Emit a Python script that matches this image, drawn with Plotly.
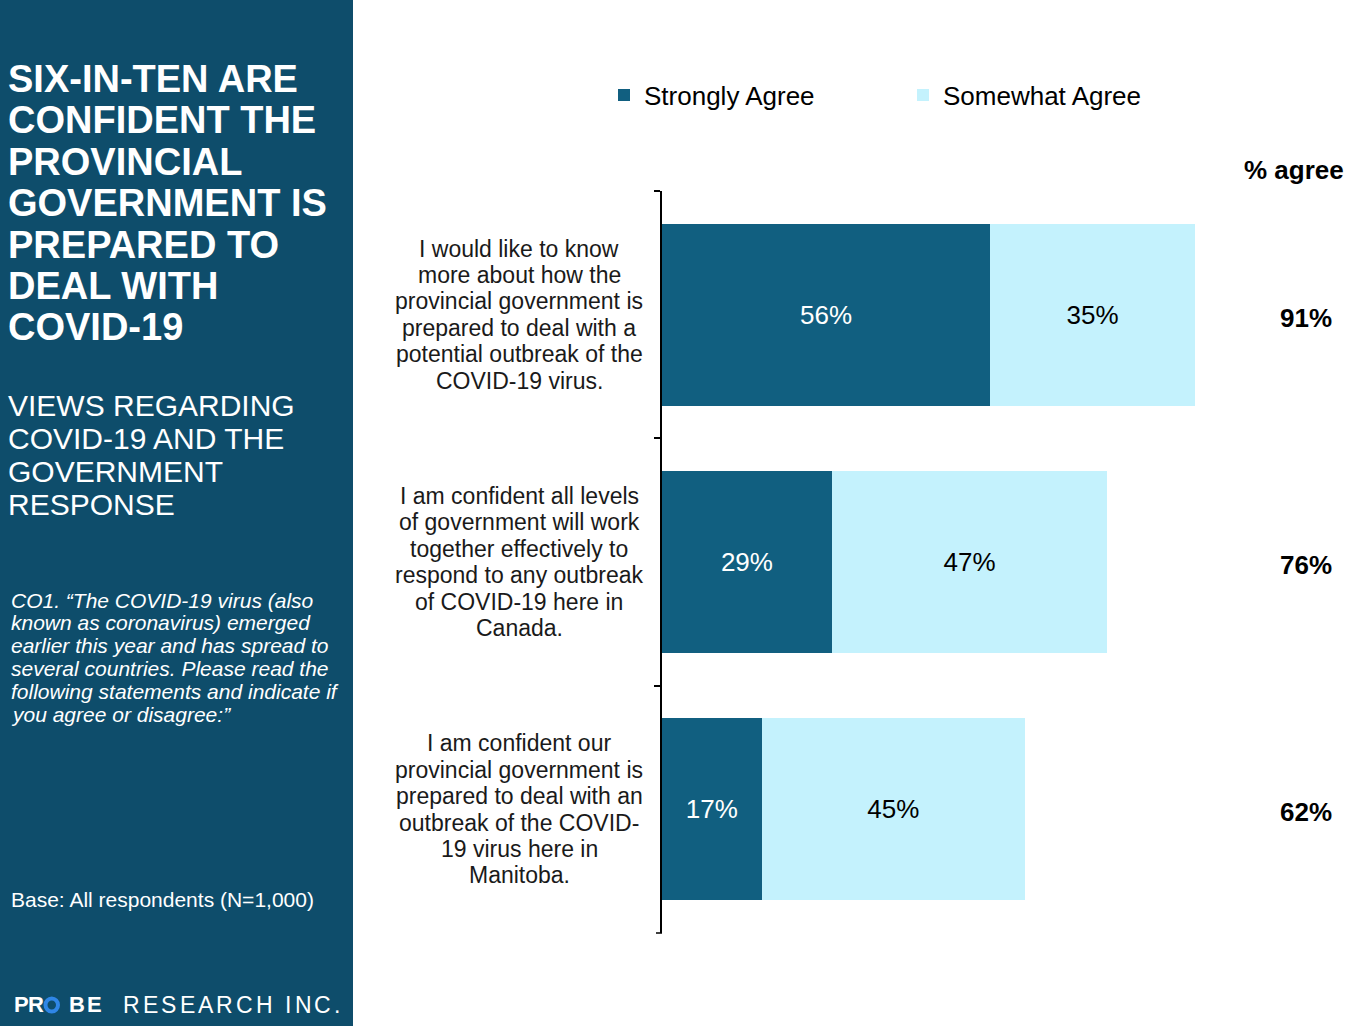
import plotly.graph_objects as go

# ---------------- data ----------------
statements = [
    "I would like to know\nmore about how the\nprovincial government is\nprepared to deal with a\npotential outbreak of the\nCOVID-19 virus.",
    "I am confident all levels\nof government will work\ntogether effectively to\nrespond to any outbreak\nof COVID-19 here in\nCanada.",
    "I am confident our\nprovincial government is\nprepared to deal with an\noutbreak of the COVID-\n19 virus here in\nManitoba.",
]
strongly_agree = [56, 29, 17]
somewhat_agree = [35, 47, 45]
series_names = ["Strongly Agree", "Somewhat Agree"]
totals = [a + b for a, b in zip(strongly_agree, somewhat_agree)]

title_lines = ["SIX-IN-TEN ARE", "CONFIDENT THE", "PROVINCIAL", "GOVERNMENT IS",
               "PREPARED TO", "DEAL WITH", "COVID-19"]
subtitle_lines = ["VIEWS REGARDING", "COVID-19 AND THE", "GOVERNMENT", "RESPONSE"]
question_lines = ["CO1. \u201cThe COVID-19 virus (also", "known as coronavirus) emerged",
                  "earlier this year and has spread to", "several countries. Please read the",
                  "following statements and indicate if", "you agree or disagree:\u201d"]
base_text = "Base: All respondents (N=1,000)"

# ---------------- styling ----------------
W, H = 1371, 1026
ML, MR, MT, MB = 662, 21, 191, 93
PW, PH = W - ML - MR, H - MT - MB
XMAX = 117.46
FONT = "Liberation Sans, Arial, sans-serif"
PANEL = "#0e4d6b"
DARK = "#115f80"
LIGHT = "#c4f2fd"


def px_x(x):
    return (x - ML) / PW


def px_y(y):
    return (H - MB - y) / PH


cats = [s.replace("\n", " ") for s in statements]

fig = go.Figure()
fig.add_trace(go.Bar(
    y=cats, x=strongly_agree, orientation="h", name=series_names[0],
    marker=dict(color=DARK, line=dict(width=0)),
    text=[f"{v}%" for v in strongly_agree], textposition="inside",
    insidetextanchor="middle", textangle=0,
    textfont=dict(family=FONT, size=26, color="white"),
    hoverinfo="skip",
))
fig.add_trace(go.Bar(
    y=cats, x=somewhat_agree, orientation="h", name=series_names[1],
    marker=dict(color=LIGHT, line=dict(width=0)),
    text=[f"{v}%" for v in somewhat_agree], textposition="inside",
    insidetextanchor="middle", textangle=0,
    textfont=dict(family=FONT, size=26, color="black"),
    hoverinfo="skip",
))

annotations = []
shapes = []

# left panel
shapes.append(dict(type="rect", xref="paper", yref="paper", layer="below",
                   x0=px_x(0), x1=px_x(353), y0=px_y(H), y1=px_y(0),
                   fillcolor=PANEL, line=dict(width=0)))
# bottom boundary tick of the category axis
shapes.append(dict(type="line", xref="paper", yref="paper",
                   x0=px_x(656), x1=px_x(662), y0=px_y(933), y1=px_y(933),
                   line=dict(color="black", width=1.5)))


def left_text(lines, x, y0, step, size, bold=False, italic=False):
    for i, ln in enumerate(lines):
        t = ln
        if bold:
            t = f"<b>{t}</b>"
        if italic:
            t = f"<i>{t}</i>"
        annotations.append(dict(
            text=t, xref="paper", yref="paper", x=px_x(x), y=px_y(y0 + i * step),
            xanchor="left", yanchor="middle", showarrow=False,
            font=dict(family=FONT, size=size, color="white")))


left_text(title_lines, 6, 79, 41.4, 38, bold=True)
left_text(subtitle_lines, 6, 405, 33.2, 30)
left_text(question_lines, 9, 600, 22.8, 21, italic=True)
left_text([base_text], 9, 899, 0, 21)

# logo
logo_y = 1005
bold_letters = [("P", 12), ("R", 26), ("B", 67), ("E", 85)]
for ch, x in bold_letters:
    annotations.append(dict(text=f"<b>{ch}</b>", xref="paper", yref="paper",
                            x=px_x(x), y=px_y(logo_y), xanchor="left", yanchor="middle",
                            showarrow=False, font=dict(family=FONT, size=22, color="white")))
shapes.append(dict(type="circle", xref="paper", yref="paper",
                   x0=px_x(45.5), x1=px_x(58), y0=px_y(logo_y + 6.5), y1=px_y(logo_y - 6.5),
                   line=dict(color="#2f86e6", width=4)))
widths = {"R": .722, "E": .667, "S": .667, "A": .667, "C": .722, "H": .722,
          " ": .278, "I": .278, "N": .722, ".": .278}
x = 121
for ch in "RESEARCH INC.":
    if ch != " ":
        annotations.append(dict(text=ch, xref="paper", yref="paper",
                                x=px_x(x), y=px_y(logo_y), xanchor="left", yanchor="middle",
                                showarrow=False, font=dict(family=FONT, size=23, color="white")))
    x += widths[ch] * 23 + 3.1

# category labels (centered, multi-line)
for cat, st in zip(cats, statements):
    lines = st.split("\n")
    n = len(lines)
    for i, ln in enumerate(lines):
        annotations.append(dict(
            text=ln, xref="paper", yref="y", x=px_x(519), y=cat,
            yshift=-(i - (n - 1) / 2) * 26.4,
            xanchor="center", yanchor="middle", showarrow=False,
            font=dict(family=FONT, size=23, color="#1a1a1a")))

# % agree column
annotations.append(dict(text="<b>% agree</b>", xref="paper", yref="paper",
                        x=px_x(1294), y=px_y(170), xanchor="center", yanchor="middle",
                        showarrow=False, font=dict(family=FONT, size=26, color="black")))
for cat, tot in zip(cats, totals):
    annotations.append(dict(text=f"<b>{tot}%</b>", xref="paper", yref="y",
                            x=px_x(1306), y=cat, yshift=-3, xanchor="center", yanchor="middle",
                            showarrow=False, font=dict(family=FONT, size=26, color="black")))

fig.update_layout(
    width=W, height=H,
    margin=dict(l=ML, r=MR, t=MT, b=MB, pad=0),
    paper_bgcolor="white", plot_bgcolor="white",
    barmode="stack", bargap=0.263,
    font=dict(family=FONT, size=20, color="black"),
    showlegend=True,
    legend=dict(orientation="h", x=px_x(604), y=px_y(95), xanchor="left", yanchor="middle",
                font=dict(family=FONT, size=26, color="black"),
                itemwidth=30, entrywidth=254, traceorder="normal",
                bgcolor="rgba(0,0,0,0)"),
    xaxis=dict(range=[0, XMAX], visible=False, fixedrange=True),
    yaxis=dict(autorange="reversed", showline=True, linecolor="black", linewidth=1.5,
               ticks="outside", ticklen=6, tickcolor="black", tickwidth=1.5,
               tickson="boundaries", showticklabels=False, showgrid=False,
               zeroline=False, fixedrange=True),
    annotations=annotations,
    shapes=shapes,
)

fig.write_html("out.html", config={"displayModeBar": False},
               post_script="document.body.style.margin='0px';")
